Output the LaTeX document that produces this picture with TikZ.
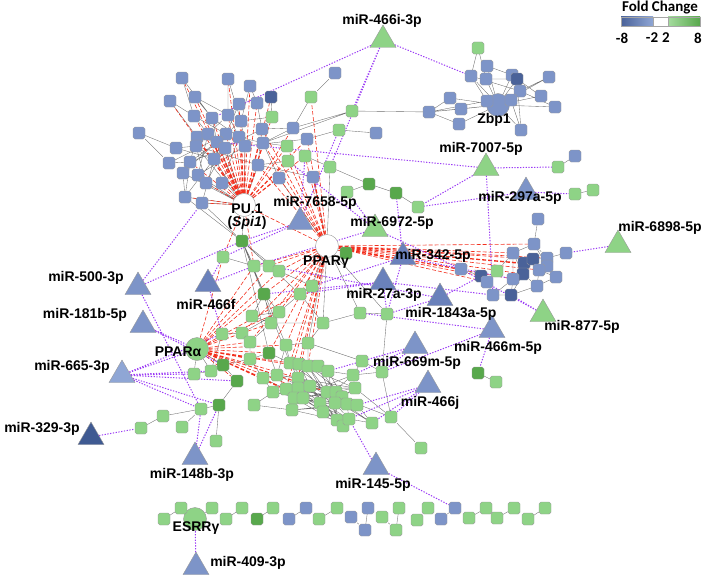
\documentclass[tikz,border=0pt]{standalone}
\usepackage{fontspec}
\setmainfont{Liberation Sans}
\newfontfamily\legendfont{Carlito}
\usetikzlibrary{shapes.geometric,backgrounds}

\definecolor{fcblue}{HTML}{7D94C8}
\definecolor{fcdblue}{HTML}{4A6299}
\definecolor{fcgreen}{HTML}{8ED386}
\definecolor{fcdgreen}{HTML}{58A84C}
\definecolor{trimid}{HTML}{6A81BB}
\definecolor{tridark}{HTML}{3F5A92}
\definecolor{trilight}{HTML}{8FA6D5}
\definecolor{tfred}{HTML}{F2301E}
\definecolor{mirviolet}{HTML}{9B3BF5}

\tikzset{
  sq/.style={rectangle, rounded corners=1.8pt, minimum size=12pt, inner sep=0pt, draw=gray!80, line width=0.4pt},
  bsq/.style={sq, fill=fcblue},
  dbsq/.style={sq, fill=fcdblue},
  gsq/.style={sq, fill=fcgreen},
  dgsq/.style={sq, fill=fcdgreen},
  hub/.style={circle, minimum size=23pt, inner sep=0pt, draw=gray!80, line width=0.4pt},
  mirna/.style={regular polygon, regular polygon sides=3, minimum size=30pt, inner sep=0pt, draw=gray!80, line width=0.4pt},
  ppi/.style={draw=gray!85!black, line width=0.35pt},
  tf/.style={draw=tfred, line width=0.6pt, dash pattern=on 4pt off 2pt},
  mir/.style={draw=mirviolet, line width=1pt, dash pattern=on 1.3pt off 1.5pt},
  lbl/.style={font=\fontsize{14}{15}\selectfont\bfseries, inner sep=0pt},
  legtxt/.style={font=\legendfont\fontsize{15}{16}\selectfont\bfseries, inner sep=0pt}
}

\begin{document}
\begin{tikzpicture}[x=1pt, y=-1pt]
	\useasboundingbox (0,0) rectangle (708,578);

	% hubs
	\node[hub, fill=white] (pu) at (244,205) {};
	\node[hub, fill=white] (pg) at (327,246) {};
	\node[hub, fill=fcgreen] (pa) at (197,349) {};
	\node[hub, fill=fcgreen] (es) at (195,519) {};
	\node[hub, fill=fcblue] (zb) at (498,105) {};

	% top-left cluster
	\node[bsq] (t1) at (182,78) {};
	\node[bsq] (t2) at (228,79) {};
	\node[bsq] (t3) at (250,86) {};
	\node[bsq] (t4) at (195,97) {};
	\node[bsq] (t5) at (170,101) {};
	\node[dbsq] (t6) at (271,97) {};
	\node[bsq] (t7) at (239,104) {};
	\node[bsq] (t8) at (257,103) {};
	\node[bsq] (t9) at (194,116) {};
	\node[bsq] (t10) at (212,118) {};
	\node[bsq] (t11) at (228,115) {};
	\node[bsq] (t12) at (241,121) {};
	\node[bsq] (t13) at (262,129) {};
	\node[bsq] (t14) at (139,133) {};
	\node[bsq] (t15) at (197,137) {};
	\node[bsq] (t16) at (208,134) {};
	\node[bsq] (t17) at (226,134) {};
	\node[bsq] (t18) at (239,137) {};
	\node[bsq] (t19) at (217,142) {};
	\node[bsq] (t20) at (176,148) {};
	\node[bsq] (t21) at (196,146) {};
	\node[bsq] (t22) at (225,148) {};
	\node[bsq] (t23) at (245,146) {};
	\node[bsq] (t24) at (263,143) {};
	\node[bsq] (t25) at (214,159) {};
	\node[bsq] (t27) at (169,163) {};
	\node[bsq] (t28) at (190,162) {};
	\node[bsq] (t29) at (183,173) {};
	\node[bsq] (t30) at (198,175) {};
	\node[bsq] (t31) at (206,183) {};
	\node[bsq] (t32) at (222,183) {};
	\node[bsq] (t33) at (258,165) {};
	\node[bsq] (t34) at (279,178) {};
	\node[bsq] (t35) at (185,197) {};
	\node[bsq] (t36) at (202,203) {};
	\node[bsq] (t37) at (293,128) {};
	\node[bsq] (t38) at (307,139) {};
	\node[bsq] (t39) at (313,177) {};
	\node[bsq] (t40) at (335,73) {};
	\node[bsq] (t41) at (376,133) {};
	\node[gsq] (u1) at (311,97) {};
	\node[gsq] (u2) at (272,117) {};
	\node[gsq] (u3) at (287,146) {};
	\node[gsq] (u4) at (288,161) {};
	\node[gsq] (u5) at (305,156) {};
	\node[gsq] (u6) at (330,167) {};
	\node[gsq] (u7) at (339,130) {};
	\node[gsq] (u8) at (352,111) {};
	\node[gsq] (u9) at (347,192) {};
	\node[dgsq] (u10) at (369,184) {};
	\node[dgsq] (u11) at (396,193) {};
	\node[gsq] (u12) at (418,207) {};
	\node[dgsq] (u13) at (242,241) {};
	\node[gsq] (u14) at (223,257) {};
	\node[dgsq] (u15) at (346,253) {};

	% Zbp1 cluster
	\node[gsq] (z1) at (478,48) {};
	\node[bsq] (z2) at (487,66) {};
	\node[bsq] (z3) at (471,76) {};
	\node[bsq] (z4) at (486,79) {};
	\node[bsq] (z5) at (512,75) {};
	\node[dbsq] (z6) at (517,79) {};
	\node[bsq] (z7) at (549,77) {};
	\node[bsq] (z9) at (520,91) {};
	\node[bsq] (z10) at (541,96) {};
	\node[bsq] (z11) at (555,107) {};
	\node[bsq] (z12) at (487,101) {};
	\node[bsq] (z13) at (511,100) {};
	\node[bsq] (z14) at (450,98) {};
	\node[bsq] (z15) at (461,109) {};
	\node[bsq] (z16) at (429,112) {};
	\node[bsq] (z17) at (459,124) {};
	\node[bsq] (z18) at (521,130) {};
	\node[gsq] (r1) at (558,167) {};
	\node[bsq] (r2) at (575,156) {};
	\node[gsq] (r3) at (575,194) {};
	\node[gsq] (r4) at (593,190) {};

	% right cluster
	\node[bsq] (rc1) at (538,219) {};
	\node[bsq] (rc2) at (534,244) {};
	\node[bsq] (rc3) at (513,253) {};
	\node[dbsq] (rc4) at (524,263) {};
	\node[dbsq] (rc5) at (533,259) {};
	\node[bsq] (rc6) at (547,258) {};
	\node[bsq] (rc7) at (547,266) {};
	\node[bsq] (rc8) at (566,253) {};
	\node[bsq] (rc9) at (539,270) {};
	\node[dbsq] (rc10) at (523,274) {};
	\node[bsq] (rc11) at (513,279) {};
	\node[bsq] (rc12) at (556,277) {};
	\node[bsq] (rc13) at (537,286) {};
	\node[bsq] (rc14) at (461,269) {};
	\node[dbsq] (rc15) at (481,276) {};
	\node[bsq] (rc16) at (487,282) {};
	\node[gsq] (rc17) at (497,271) {};
	\node[bsq] (rc18) at (493,295) {};
	\node[dbsq] (rc19) at (511,295) {};

	% central and lower green cluster
	\node[gsq] (c1) at (254,266) {};
	\node[gsq] (c2) at (269,266) {};
	\node[gsq] (c3) at (279,271) {};
	\node[gsq] (c4) at (312,286) {};
	\node[gsq] (c5) at (300,294) {};
	\node[dgsq] (c6) at (264,294) {};
	\node[gsq] (c7) at (252,316) {};
	\node[gsq] (c8) at (279,312) {};
	\node[gsq] (c9) at (271,323) {};
	\node[gsq] (c10) at (323,323) {};
	\node[gsq] (c11) at (360,313) {};
	\node[gsq] (c12) at (387,314) {};
	\node[gsq] (c13) at (286,345) {};
	\node[gsq] (c14) at (308,343) {};
	\node[gsq] (c15) at (222,334) {};
	\node[gsq] (c16) at (242,333) {};
	\node[gsq] (c17) at (250,342) {};
	\node[dgsq] (c18) at (269,353) {};
	\node[gsq] (c19) at (250,359) {};
	\node[gsq] (c20) at (263,378) {};
	\node[gsq] (c21) at (273,392) {};
	\node[gsq] (c22) at (254,405) {};
	\node[gsq] (c23) at (277,375) {};
	\node[gsq] (c24) at (290,363) {};
	\node[gsq] (c25) at (299,364) {};
	\node[gsq] (c26) at (308,366) {};
	\node[gsq] (c27) at (318,366) {};
	\node[gsq] (c28) at (328,371) {};
	\node[gsq] (c29) at (298,378) {};
	\node[gsq] (c30) at (298,388) {};
	\node[gsq] (c31) at (310,386) {};
	\node[gsq] (c32) at (286,389) {};
	\node[gsq] (c33) at (294,398) {};
	\node[gsq] (c34) at (303,398) {};
	\node[gsq] (c35) at (292,410) {};
	\node[gsq] (c36) at (320,403) {};
	\node[gsq] (c37) at (323,412) {};
	\node[gsq] (c38) at (327,392) {};
	\node[gsq] (c39) at (336,392) {};
	\node[gsq] (c40) at (342,397) {};
	\node[gsq] (c41) at (335,403) {};
	\node[gsq] (c42) at (347,404) {};
	\node[gsq] (c43) at (357,405) {};
	\node[gsq] (c44) at (355,388) {};
	\node[gsq] (c45) at (353,375) {};
	\node[gsq] (c46) at (362,361) {};
	\node[gsq] (c47) at (382,372) {};
	\node[gsq] (c48) at (337,420) {};
	\node[gsq] (c49) at (343,426) {};
	\node[gsq] (c50) at (349,419) {};
	\node[gsq] (c51) at (372,423) {};
	\node[gsq] (c52) at (391,417) {};
	\node[gsq] (c53) at (421,448) {};
	\node[dgsq] (c54) at (478,373) {};
	\node[gsq] (c55) at (496,382) {};
	\node[dgsq] (l1) at (223,365) {};
	\node[gsq] (l2) at (194,374) {};
	\node[gsq] (l3) at (211,371) {};
	\node[dgsq] (l4) at (237,381) {};
	\node[dgsq] (l5) at (219,405) {};
	\node[gsq] (l6) at (201,409) {};
	\node[gsq] (l7) at (163,416) {};
	\node[gsq] (l8) at (182,427) {};
	\node[gsq] (l9) at (141,428) {};
	\node[gsq] (l10) at (216,441) {};

	% bottom chain
	\node[gsq] (ch1) at (164,519) {};
	\node[gsq] (ch2) at (181,508) {};
	\node[gsq] (ch3) at (212,508) {};
	\node[gsq] (ch4) at (226,519) {};
	\node[gsq] (ch5) at (242,508) {};
	\node[dgsq] (ch6) at (257,519) {};
	\node[gsq] (ch7) at (273,508) {};
	\node[bsq] (ch8) at (289,519) {};
	\node[bsq] (ch9) at (306,508) {};
	\node[gsq] (ch10) at (319,519) {};
	\node[gsq] (ch11) at (337,508) {};
	\node[bsq] (ch12) at (351,517) {};
	\node[bsq] (ch13) at (368,508) {};
	\node[bsq] (ch14) at (365,530) {};
	\node[gsq] (ch15) at (382,517) {};
	\node[gsq] (ch16) at (399,508) {};
	\node[gsq] (ch17) at (396,530) {};
	\node[gsq] (ch18) at (417,520) {};
	\node[gsq] (ch19) at (428,508) {};
	\node[bsq] (ch20) at (441,519) {};
	\node[bsq] (ch21) at (455,508) {};
	\node[gsq] (ch22) at (469,518) {};
	\node[gsq] (ch23) at (486,508) {};
	\node[gsq] (ch24) at (497,518) {};
	\node[gsq] (ch25) at (514,508) {};
	\node[gsq] (ch26) at (528,519) {};
	\node[gsq] (ch27) at (545,508) {};

	% miRNAs
	\node[mirna, fill=fcgreen] (m466i) at (383,40) {};
	\node[mirna, fill=fcgreen] (m7007) at (486,168) {};
	\node[mirna, fill=fcblue] (m297a) at (526,192) {};
	\node[mirna, fill=fcgreen] (m6898) at (618,245) {};
	\node[mirna, fill=fcblue] (m7658) at (300,222) {};
	\node[mirna, fill=fcgreen] (m6972) at (375,229) {};
	\node[mirna, fill=trimid] (m342) at (403,257) {};
	\node[mirna, fill=trimid] (m27a) at (383,282) {};
	\node[mirna, fill=trimid] (m1843a) at (440,298) {};
	\node[mirna, fill=fcblue] (m466m) at (492,330) {};
	\node[mirna, fill=fcgreen] (m877) at (543,314) {};
	\node[mirna, fill=fcblue] (m669m) at (415,346) {};
	\node[mirna, fill=fcblue] (m466j) at (428,385) {};
	\node[mirna, fill=fcblue] (m145) at (376,467) {};
	\node[mirna, fill=fcblue] (m148b) at (195,457) {};
	\node[mirna, fill=fcblue] (m409) at (196,567) {};
	\node[mirna, fill=tridark] (m329) at (91,437) {};
	\node[mirna, fill=trilight] (m665) at (122,375) {};
	\node[mirna, fill=fcblue] (m181b) at (143,325) {};
	\node[mirna, fill=fcblue] (m500) at (138,287) {};
	\node[mirna, fill=trimid] (m466f) at (208,284) {};

	\begin{scope}[on background layer]
	\draw[ppi] (t1) -- (t10) (t1) -- (t9) (t2) -- (t11) (t3) -- (t12) (t3) -- (t8) (t4) -- (t10) (t5) -- (t15) (t5) -- (t9)
		(t7) -- (t17) (t8) -- (t13) (t9) -- (t17) (t10) -- (t19) (t11) -- (t18) (t12) -- (t23) (t13) -- (t22) (t16) -- (t22)
		(t14) -- (t20) (t15) -- (t19) (t17) -- (t25) (t18) -- (t24) (t19) -- (t28) (t20) -- (t25) (t21) -- (t33) (t22) -- (t31)
		(t23) -- (t30) (t24) -- (t37) (t25) -- (t35) (t27) -- (t17) (t28) -- (t22) (t29) -- (t19) (t30) -- (t16) (t31) -- (t21)
		(t32) -- (t18) (t33) -- (t13) (t34) -- (t24) (t35) -- (t28) (t36) -- (t25) (t37) -- (t13) (t38) -- (t23) (t39) -- (t33)
		(t14) -- (t27) (t27) -- (t28) (t29) -- (t35) (t20) -- (t21) (t40) -- (u1) (u1) -- (t37) (u2) -- (t12) (u2) -- (t6)
		(u8) -- (t37) (u8) -- (t24) (u8) -- (z16) (u7) -- (t41) (u7) -- (t38) (u3) -- (t24) (u4) -- (t33) (u5) -- (u6)
		(u6) -- (u10) (u9) -- (u10) (u10) -- (u11) (u11) -- (u12) (t11) -- (t16) (t12) -- (t17) (t15) -- (t28) (t19) -- (t22)
		(t21) -- (t25) (t17) -- (t23) (t9) -- (t16) (t4) -- (t11) (t10) -- (t18) (t2) -- (t12);
	\draw[ppi] (pu) -- (t35) (pu) -- (t36) (pu) -- (t31) (pu) -- (t32) (pu) -- (t30) (pu) -- (t33) (pu) -- (t22) (pu) -- (t23)
		(pu) -- (t21) (pu) -- (t29) (pu) -- (u13) (t35) -- (u13) (t36) -- (u13) (pu) -- (t19) (pu) -- (t25);
	\draw[ppi] (zb) -- (z2) (zb) -- (z3) (zb) -- (z4) (zb) -- (z5) (zb) -- (z6) (zb) -- (z7) (zb) -- (z9) (zb) -- (z10)
		(zb) -- (z11) (zb) -- (z12) (zb) -- (z13) (zb) -- (z14) (zb) -- (z15) (zb) -- (z16) (zb) -- (z17) (zb) -- (z18)
		(z1) -- (z3) (z1) -- (z4) (z2) -- (z5) (z3) -- (z12) (z4) -- (z6) (z5) -- (z9) (z6) -- (z10) (z7) -- (z9) (z9) -- (z11)
		(z14) -- (z16) (z15) -- (z16) (z16) -- (z17) (z12) -- (z16) (z13) -- (z18) (z6) -- (z18) (z3) -- (z9)
		(r2) -- (r1) (r3) -- (r4);
	\draw[ppi] (rc1) -- (rc2) (rc2) -- (rc3) (rc2) -- (rc6) (rc3) -- (rc4) (rc3) -- (rc10) (rc3) -- (rc11) (rc4) -- (rc5)
		(rc5) -- (rc6) (rc6) -- (rc8) (rc7) -- (rc12) (rc9) -- (rc13) (rc10) -- (rc11) (rc11) -- (rc19) (rc11) -- (rc18)
		(rc19) -- (rc13) (rc14) -- (rc15) (rc15) -- (rc16) (rc16) -- (rc17) (rc17) -- (rc3) (rc18) -- (rc16) (rc10) -- (rc13)
		(rc12) -- (rc9) (rc7) -- (rc4) (rc5) -- (rc9) (rc2) -- (rc7) (rc19) -- (rc10) (rc18) -- (rc19) (rc12) -- (rc13);
	\draw[ppi] (pg) -- (u15) (pg) -- (t39) (pg) -- (t34) (pg) -- (u6) (pg) -- (c11) (pg) -- (c12) (pg) -- (c10) (pg) -- (c14) (pg) -- (c4)
		(u13) -- (c1) (u13) -- (c2) (u13) -- (c3) (u13) -- (c5) (u13) -- (c6) (u13) -- (c13) (u13) -- (c18) (u13) -- (c24) (u14) -- (c1)
		(c1) -- (c2) (c2) -- (c3) (c3) -- (c4) (c4) -- (c5) (c5) -- (c8) (c6) -- (c7) (c7) -- (c8) (c7) -- (c9) (c6) -- (c9) (c6) -- (c8)
		(c9) -- (c10) (c10) -- (c11) (c11) -- (c12) (c8) -- (c16) (c9) -- (c17) (c10) -- (c14) (c13) -- (c14) (c5) -- (c10)
		(c15) -- (c16) (c16) -- (c17) (c17) -- (c19) (c19) -- (c20) (c20) -- (c21) (c21) -- (c22) (c18) -- (c19) (c18) -- (c23) (c18) -- (c24)
		(c23) -- (c29) (c23) -- (c32) (c24) -- (c25) (c24) -- (c29) (c25) -- (c26) (c25) -- (c31) (c26) -- (c27) (c26) -- (c38)
		(c27) -- (c28) (c27) -- (c39) (c28) -- (c45) (c29) -- (c30) (c29) -- (c31) (c30) -- (c33) (c30) -- (c34) (c31) -- (c36)
		(c31) -- (c38) (c32) -- (c33) (c33) -- (c35) (c34) -- (c36) (c34) -- (c37) (c36) -- (c41) (c37) -- (c48) (c38) -- (c39)
		(c38) -- (c42) (c39) -- (c40) (c40) -- (c43) (c41) -- (c42) (c42) -- (c50) (c43) -- (c51) (c44) -- (c45) (c44) -- (c40)
		(c45) -- (c46) (c46) -- (c47) (c47) -- (c52) (c48) -- (c49) (c49) -- (c50) (c50) -- (c51) (c21) -- (c32) (c20) -- (c23)
		(c22) -- (c35) (c14) -- (c26) (c13) -- (c24) (c13) -- (c23) (c14) -- (c46) (c29) -- (c40) (c29) -- (c43) (c30) -- (c42)
		(c31) -- (c49) (c33) -- (c49) (c34) -- (c50) (c25) -- (c44) (c26) -- (c43) (c24) -- (c42) (c23) -- (c41) (c32) -- (c48)
		(c35) -- (c48) (c36) -- (c43) (c37) -- (c50) (c28) -- (c42) (c21) -- (c36) (c20) -- (c34) (c44) -- (c52) (c52) -- (c53)
		(c47) -- (c45) (c12) -- (c47) (c54) -- (c55)
		(c32) -- (c44) (c33) -- (c45) (c30) -- (c50) (c35) -- (c43) (c23) -- (c44) (c24) -- (c48) (c29) -- (c51) (c31) -- (c52)
		(c32) -- (c40) (c33) -- (c39) (c34) -- (c44) (c35) -- (c42) (c30) -- (c49) (c21) -- (c41) (c25) -- (c50) (c26) -- (c49)
		(c36) -- (c45) (c37) -- (c44) (c38) -- (c51) (c39) -- (c48) (c27) -- (c41) (c28) -- (c48);
	\draw[ppi] (pa) -- (l1) (pa) -- (l2) (pa) -- (l3) (l1) -- (l4) (l4) -- (l5) (l5) -- (l6) (l5) -- (l10) (l6) -- (l7) (l6) -- (l8)
		(l7) -- (l9) (l2) -- (l3) (l3) -- (c15) (l1) -- (c19);
	\draw[ppi] (ch1) -- (ch2) (es) -- (ch3) (ch4) -- (ch5) (ch6) -- (ch7) (ch8) -- (ch9) (ch10) -- (ch11) (ch12) -- (ch14)
		(ch13) -- (ch14) (ch15) -- (ch17) (ch16) -- (ch17) (ch18) -- (ch19) (ch20) -- (ch21) (ch22) -- (ch23) (ch24) -- (ch25)
		(ch26) -- (ch27);

	% transcription factor edges
	\draw[tf] (pu) -- (t1) (pu) -- (t2) (pu) -- (t3) (pu) -- (t4) (pu) -- (t5) (pu) -- (t6) (pu) -- (t7) (pu) -- (t8)
		(pu) -- (t9) (pu) -- (t10) (pu) -- (t11) (pu) -- (t12) (pu) -- (t13) (pu) -- (t15) (pu) -- (t16) (pu) -- (t17)
		(pu) -- (t18) (pu) -- (t19) (pu) -- (t22) (pu) -- (t23) (pu) -- (t24) (pu) -- (t25) (pu) -- (t28) (pu) -- (t31)
		(pu) -- (t32) (pu) -- (t33) (pu) -- (t34) (pu) -- (t35) (pu) -- (t36) (pu) -- (t37) (pu) -- (t38) (pu) -- (u2)
		(pu) -- (u3) (pu) -- (u4) (pu) -- (u5) (pu) -- (u14) (pu) -- (c1) (pu) -- (pg);
	\draw[tf] (pg) -- (t33) (pg) -- (t34) (pg) -- (t39) (pg) -- (t24) (pg) -- (t13) (pg) -- (t38) (pg) -- (u3) (pg) -- (u4)
		(pg) -- (u5) (pg) -- (u1) (pg) -- (rc2) (pg) -- (rc3) (pg) -- (rc4) (pg) -- (rc5) (pg) -- (rc6) (pg) -- (rc7)
		(pg) -- (rc9) (pg) -- (rc10) (pg) -- (rc11) (pg) -- (rc14) (pg) -- (rc15) (pg) -- (rc16) (pg) -- (u15)
		(pg) -- (c1) (pg) -- (c2) (pg) -- (c3) (pg) -- (c5) (pg) -- (c6) (pg) -- (c8) (pg) -- (c9) (pg) -- (c13)
		(pg) -- (c16) (pg) -- (c17) (pg) -- (c18) (pg) -- (c24) (pg) -- (c25) (pg) -- (c26) (pg) -- (c29) (pg) -- (c32);
	\draw[tf] (pa) -- (u14) (pa) -- (c1) (pa) -- (c2) (pa) -- (c3) (pa) -- (c4) (pa) -- (c6) (pa) -- (c8) (pa) -- (c9)
		(pa) -- (c13) (pa) -- (c16) (pa) -- (c17) (pa) -- (c18) (pa) -- (c19) (pa) -- (c20) (pa) -- (c23) (pa) -- (c24)
		(pa) -- (c28) (pa) -- (c29) (pa) -- (c30) (pa) -- (c31) (pa) -- (c32) (pa) -- (c34) (pa) -- (c40) (pa) -- (l1) (pa) -- (l4);

	% miRNA edges
	\draw[mir] (m466i) -- (t10) (m466i) -- (z3) (m466i) -- (u6) (m466i) -- (u8)
		(m7007) -- (r1) (m7007) -- (t19) (m7007) -- (u12) (m7007) -- (rc18)
		(m297a) -- (u12) (m297a) -- (r3) (m6898) -- (rc8)
		(m7658) -- (u13) (m7658) -- (u14) (m7658) -- (u5) (m7658) -- (u7)
		(m6972) -- (u4) (m6972) -- (c1) (m6972) -- (rc14) (m6972) -- (u9)
		(m342) -- (u11) (m342) -- (c4) (m342) -- (c12) (m342) -- (rc11)
		(m27a) -- (c5) (m27a) -- (c6) (m27a) -- (c12) (m27a) -- (rc18)
		(m1843a) -- (c12) (m1843a) -- (rc15) (m1843a) -- (c2)
		(m466m) -- (c54) (m466m) -- (c47) (m466m) -- (c11)
		(m877) -- (rc19) (m877) -- (rc14)
		(m669m) -- (c46) (m669m) -- (c45) (m669m) -- (c47) (m669m) -- (c28)
		(m466j) -- (c43) (m466j) -- (c51) (m466j) -- (c50) (m466j) -- (c52)
		(m145) -- (c50) (m145) -- (ch21) (m409) -- (es)
		(m148b) -- (l6) (m148b) -- (l5) (m329) -- (l9)
		(m665) -- (pa) (m665) -- (l2) (m665) -- (l3) (m665) -- (l4) (m665) -- (l5) (m665) -- (l6) (m665) -- (c15)
		(m181b) -- (pa) (m181b) -- (l1)
		(m500) -- (t36) (m500) -- (u13) (m500) -- (l6)
		(m466f) -- (u14) (m466f) -- (c1) (m466f) -- (c15);
	\end{scope}

	% labels
	\node[lbl] (lbl466i) at (382,21) {miR-466i-3p};
	\node[lbl] (lblzbp) at (494,120) {Zbp1};
	\node[lbl] (lbl7007) at (481,149) {miR-7007-5p};
	\node[lbl] (lbl297a) at (520,198) {miR-297a-5p};
	\node[lbl] (lbl6898) at (660,228) {miR-6898-5p};
	\node[lbl] (lbl7658) at (315,203) {miR-7658-5p};
	\node[lbl] (lblpu) at (247,209) {PU.1};
	\node[lbl] (lblspi) at (247,223) {(\textit{Spi1})};
	\node[lbl] (lblpg) at (326,262) {PPARγ};
	\node[lbl] (lbl6972) at (392,223) {miR-6972-5p};
	\node[lbl] (lbl342) at (433,256) {miR-342-5p};
	\node[lbl] (lbl27a) at (384,295) {miR-27a-3p};
	\node[lbl] (lbl1843a) at (451,314) {miR-1843a-5p};
	\node[lbl] (lbl466m) at (498,348) {miR-466m-5p};
	\node[lbl] (lbl877) at (582,327) {miR-877-5p};
	\node[lbl] (lbl669m) at (417,363) {miR-669m-5p};
	\node[lbl] (lbl466j) at (430,403) {miR-466j};
	\node[lbl] (lbl145) at (373,485) {miR-145-5p};
	\node[lbl] (lbl148b) at (192,475) {miR-148b-3p};
	\node[lbl] (lbles) at (196,528) {ESRRγ};
	\node[lbl] (lbl409) at (248,563) {miR-409-3p};
	\node[lbl] (lbl329) at (42,429) {miR-329-3p};
	\node[lbl] (lbl665) at (72,367) {miR-665-3p};
	\node[lbl] (lblpa) at (178,352) {PPARα};
	\node[lbl] (lbl181b) at (85,315) {miR-181b-5p};
	\node[lbl] (lbl466f) at (206,304) {miR-466f};
	\node[lbl] (lbl500) at (86,278) {miR-500-3p};

	% legend
	\shade[left color=fcdblue, right color=trilight] (621,17) rectangle (653,26);
	\shade[left color=fcgreen!80!white, right color=fcdgreen] (668,17) rectangle (700,26);
	\draw[gray!70, line width=0.4pt] (621,17) rectangle (700,26) (653,17) -- (653,26) (668,17) -- (668,26);
	\node[legtxt] (legtitle) at (660,8) {Fold Change};
	\node[legtxt] (legA) at (622,38) {-8};
	\node[legtxt] (legB) at (652,38) {-2};
	\node[legtxt] (legC) at (666,38) {2};
	\node[legtxt] (legD) at (698,38) {8};
\end{tikzpicture}
\end{document}
